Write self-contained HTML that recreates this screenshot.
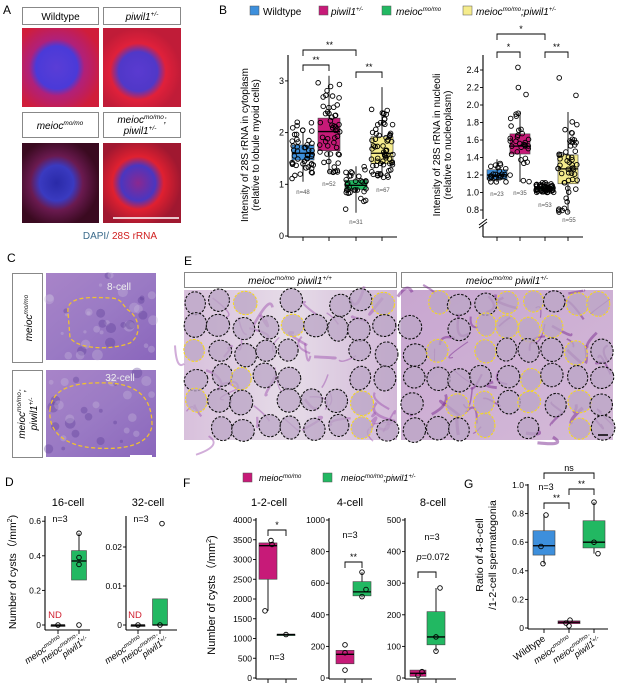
<!DOCTYPE html>
<html><head><meta charset="utf-8"><style>
html,body{margin:0;padding:0;background:#fff}
svg{display:block;font-family:"Liberation Sans",sans-serif}
.it{font-style:italic}
</style></head><body>
<svg id="s" width="617" height="685" viewBox="0 0 617 685" xmlns="http://www.w3.org/2000/svg">
<defs>
<radialGradient id="ga1" cx="45%" cy="50%" r="60%"><stop offset="0" stop-color="#5a3dd6"/><stop offset="0.45" stop-color="#4a3ad8"/><stop offset="0.6" stop-color="#b0207a"/><stop offset="1" stop-color="#d01d3a"/></radialGradient>
<radialGradient id="ga2" cx="45%" cy="55%" r="55%"><stop offset="0" stop-color="#5a3ad0"/><stop offset="0.45" stop-color="#5038c8"/><stop offset="0.65" stop-color="#e0203a"/><stop offset="1" stop-color="#c01c38"/></radialGradient>
<radialGradient id="ga3" cx="45%" cy="50%" r="55%"><stop offset="0" stop-color="#2a2aa8"/><stop offset="0.4" stop-color="#3a3ac0"/><stop offset="0.62" stop-color="#6a1a50"/><stop offset="1" stop-color="#3a0a20"/></radialGradient>
<radialGradient id="ga4" cx="45%" cy="50%" r="55%"><stop offset="0" stop-color="#8a2890"/><stop offset="0.4" stop-color="#4a36c0"/><stop offset="0.6" stop-color="#e02030"/><stop offset="1" stop-color="#a01830"/></radialGradient>
<linearGradient id="gh" x1="0" y1="0" x2="1" y2="1"><stop offset="0" stop-color="#a884c8"/><stop offset="0.5" stop-color="#9a7ac4"/><stop offset="1" stop-color="#8a66bc"/></linearGradient>
<linearGradient id="ge1" x1="0" y1="0" x2="1" y2="0"><stop offset="0" stop-color="#d8c0dc"/><stop offset="0.5" stop-color="#e6dce8"/><stop offset="1" stop-color="#d2b8d8"/></linearGradient>
<linearGradient id="ge2" x1="0" y1="0" x2="1" y2="1"><stop offset="0" stop-color="#c8a6d0"/><stop offset="1" stop-color="#d4bad8"/></linearGradient>
</defs>

<!-- Panel A -->
<text x="3" y="14" font-size="12">A</text>
<rect x="22.5" y="7.5" width="76" height="17" fill="#fff" stroke="#888"/>
<text x="60.5" y="20" font-size="10" text-anchor="middle">Wildtype</text>
<rect x="103.5" y="7.5" width="77" height="17" fill="#fff" stroke="#888"/>
<text x="142" y="20" font-size="10" text-anchor="middle" class="it">piwil1<tspan font-size="6.5" dy="-4">+/-</tspan></text>
<rect x="22" y="28" width="77" height="79" fill="url(#ga1)"/>
<rect x="103" y="28" width="78" height="79" fill="url(#ga2)"/>
<rect x="22.5" y="112.5" width="76" height="25" fill="#fff" stroke="#888"/>
<text x="60" y="129" font-size="10" text-anchor="middle" class="it">meioc<tspan font-size="6.5" dy="-4">mo/mo</tspan></text>
<rect x="103.5" y="112.5" width="77" height="25" fill="#fff" stroke="#888"/>
<text x="142" y="123" font-size="10" text-anchor="middle" class="it">meioc<tspan font-size="6.5" dy="-4">mo/mo</tspan><tspan dy="4">;</tspan></text>
<text x="140" y="134" font-size="10" text-anchor="middle" class="it">piwil1<tspan font-size="6.5" dy="-4">+/-</tspan></text>
<rect x="22" y="143" width="77" height="80" fill="url(#ga3)"/>
<rect x="103" y="143" width="78" height="80" fill="url(#ga4)"/>
<line x1="113" y1="218" x2="179" y2="218" stroke="#fff" stroke-width="1.5"/>
<text x="109" y="239" font-size="10" text-anchor="end" fill="#3a6a8a">DAPI/</text>
<text x="112" y="239" font-size="10" fill="#d02020">28S rRNA</text>

<!-- Panel B legend -->
<text x="219" y="14" font-size="12">B</text>
<g font-size="10">
<rect x="250" y="6" width="9" height="9" fill="#3d8fdc" stroke="#555" stroke-width="0.5"/><text x="263" y="15">Wildtype</text>
<rect x="319" y="6" width="9" height="9" fill="#c71a78" stroke="#555" stroke-width="0.5"/><text x="331" y="15" class="it">piwil1<tspan font-size="6" dy="-4">+/-</tspan></text>
<rect x="382" y="6" width="9" height="9" fill="#22b862" stroke="#555" stroke-width="0.5"/><text x="396" y="15" class="it">meioc<tspan font-size="6" dy="-4">mo/mo</tspan></text>
<rect x="463" y="6" width="9" height="9" fill="#f5ec8c" stroke="#555" stroke-width="0.5"/><text x="476" y="15" class="it">meioc<tspan font-size="6" dy="-4">mo/mo</tspan><tspan dy="4">;piwil1</tspan><tspan font-size="6" dy="-4">+/-</tspan></text>
</g>
<g id="g1"></g>

<!-- Panel C -->
<text x="7" y="262" font-size="12">C</text>
<rect x="12.5" y="273.5" width="30" height="89" fill="#fff" stroke="#888"/>
<text transform="translate(32,318) rotate(-90)" font-size="10" text-anchor="middle" class="it">meioc<tspan font-size="6.5" dy="-4">mo/mo</tspan></text>
<rect x="12.5" y="370.5" width="30" height="87" fill="#fff" stroke="#888"/>
<text transform="translate(25,414) rotate(-90)" font-size="10" text-anchor="middle" class="it">meioc<tspan font-size="6.5" dy="-4">mo/mo</tspan><tspan dy="4">;</tspan></text>
<text transform="translate(37,414) rotate(-90)" font-size="10" text-anchor="middle" class="it">piwil1<tspan font-size="6.5" dy="-4">+/-</tspan></text>
<rect x="46" y="273" width="110" height="87" fill="url(#gh)"/>
<rect x="46" y="370" width="110" height="87" fill="url(#gh)"/>
<g id="tex"></g>
<path d="M68,312 C66,296 90,297 110,298 C122,298 122,305 128,310 C140,318 142,335 130,343 C112,350 80,350 70,338 Z" fill="none" stroke="#f0c030" stroke-width="1.3" stroke-dasharray="4,2.5"/>
<text x="119" y="290" font-size="10" fill="#eee" text-anchor="middle">8-cell</text>
<path d="M50,410 C52,385 80,382 110,383 C140,385 152,400 152,425 C150,445 125,450 95,448 C65,446 48,432 50,410 Z" fill="none" stroke="#f0c030" stroke-width="1.3" stroke-dasharray="4,2.5"/>
<text x="120" y="381" font-size="10" fill="#eee" text-anchor="middle">32-cell</text>
<line x1="130" y1="456" x2="152" y2="456" stroke="#fff" stroke-width="2"/>

<!-- Panel E -->
<text x="184" y="265" font-size="12">E</text>
<rect x="184.5" y="272.5" width="212" height="15" fill="#fff" stroke="#888"/>
<text x="290" y="284" font-size="10" text-anchor="middle" class="it">meioc<tspan font-size="6.5" dy="-4">mo/mo</tspan><tspan dy="4"> piwil1</tspan><tspan font-size="6.5" dy="-4">+/+</tspan></text>
<rect x="401.5" y="272.5" width="211" height="15" fill="#fff" stroke="#888"/>
<text x="507" y="284" font-size="10" text-anchor="middle" class="it">meioc<tspan font-size="6.5" dy="-4">mo/mo</tspan><tspan dy="4"> piwil1</tspan><tspan font-size="6.5" dy="-4">+/-</tspan></text>
<rect x="184" y="290" width="213" height="150" fill="url(#ge1)"/>
<rect x="401" y="290" width="212" height="150" fill="url(#ge2)"/>
<g id="cells"></g>
<line x1="598" y1="435" x2="608" y2="435" stroke="#000" stroke-width="1.5"/>

<g id="plots" font-size="8.5"></g>
<text x="5" y="486" font-size="12">D</text>
<text x="183" y="487" font-size="12">F</text>
<rect x="243" y="473" width="9" height="9" fill="#c71a78" stroke="#555" stroke-width="0.5"/>
<text x="259" y="481" font-size="9" class="it">meioc<tspan font-size="6" dy="-3">mo/mo</tspan></text>
<rect x="323" y="473" width="9" height="9" fill="#22b862" stroke="#555" stroke-width="0.5"/>
<text x="341" y="481" font-size="9" class="it">meioc<tspan font-size="6" dy="-3">mo/mo</tspan><tspan dy="3">;piwil1</tspan><tspan font-size="6" dy="-3">+/-</tspan></text>
<text x="464" y="488" font-size="12">G</text>
</svg>
<script>
var S='http://www.w3.org/2000/svg';
function el(p,t,a,txt){var e=document.createElementNS(S,t);for(var k in a)e.setAttribute(k,a[k]);if(txt!==undefined)e.textContent=txt;p.appendChild(e);return e;}
var seed=7;function r(){seed=(seed*16807)%2147483647;return (seed-1)/2147483646;}
var G=document.getElementById('g1');
function line(x1,y1,x2,y2,w){el(G,'line',{x1:x1,y1:y1,x2:x2,y2:y2,stroke:'#000','stroke-width':w||0.9});}
function txt(x,y,s,fs,anc,extra){var a={x:x,y:y,'font-size':fs||8.5,'text-anchor':anc||'middle'};for(var k in extra)a[k]=extra[k];return el(G,'text',a,s);}
function box(x,w,ys,col,pts,ptr){
 line(x,ys[0],x,ys[4],0.9);
 el(G,'rect',{x:x-w/2,y:ys[3],width:w,height:Math.max(ys[1]-ys[3],1.5),fill:col,stroke:'#444','stroke-width':0.6});
 line(x-w/2,ys[2],x+w/2,ys[2],1.3);
 if(pts)pts.forEach(function(p){el(G,'circle',{cx:x+(ptr?(r()-0.5)*ptr:0)+(p.length>1?p[1]:0),cy:p[0],r:2.3,fill:'none',stroke:'#000','stroke-width':0.9});});
}
function brk(x1,x2,y,lab,h){h=h||6;el(G,'path',{d:'M'+x1+','+(y+h)+'V'+y+'H'+x2+'V'+(y+h),fill:'none',stroke:'#000','stroke-width':0.9});txt((x1+x2)/2,y-2,lab,9);}
function axis(x,y0,y1,xr,ticks,cats,fs){line(x,y0,x,y1,1.1);line(x,y1,xr,y1,1.1);ticks.forEach(function(t){line(x-3,t[1],x,t[1]);txt(x-4,t[1]+3,t[0],fs||8.5,'end');});cats.forEach(function(c){line(c,y1,c,y1+4);});}
function scatter(n,lo,hi,med,sc){var a=[];for(var i=0;i<n;i++){var u=r(),v=r();var val=med+(u+v-1)*(hi-lo)*0.6;if(val<lo)val=lo+r()*0.1*(hi-lo);if(val>hi)val=hi-r()*0.1*(hi-lo);a.push([sc(val)]);}return a;}
// B left
var yl=function(v){return 236-51.7*v;};
axis(288,55,237,397,[['3',yl(3)],['2',yl(2)],['1',yl(1)],['0',yl(0)]],[303,329,356,382],9);
box(303,22,[yl(1.05),yl(1.47),yl(1.6),yl(1.76),yl(2.0)],'#3d8fdc',scatter(48,1.05,2.27,1.6,yl),22);
box(329,22,[yl(1.22),yl(1.65),yl(2.02),yl(2.28),yl(3.1)],'#c71a78',scatter(52,1.22,3.1,2.0,yl),22);
box(356,22,[yl(0.45),yl(0.9),yl(0.98),yl(1.08),yl(1.35)],'#22b862',scatter(31,0.45,1.35,0.98,yl),22);
box(382,22,[yl(1.13),yl(1.4),yl(1.6),yl(1.92),yl(2.88)],'#f5ec8c',scatter(67,1.13,2.9,1.65,yl),22);
txt(303,194,'n=48',6,'middle',{fill:'#555'});txt(329,186,'n=52',6,'middle',{fill:'#555'});txt(356,224,'n=31',6,'middle',{fill:'#555'});txt(383,192,'n=67',6,'middle',{fill:'#555'});
brk(303,329,65,'**');brk(303,356,50,'**');brk(356,382,72,'**');
txt(0,0,'Intensity of 28S rRNA in cytoplasm',10,'middle',{transform:'translate(248,145) rotate(-90)'});
txt(0,0,'(relative to lobule myoid cells)',10,'middle',{transform:'translate(259,145) rotate(-90)'});
// B right
var yr=function(v){return 210-(v-0.8)*87.5;};
var tk=[];[2.4,2.2,2.0,1.8,1.6,1.4,1.2,1.0,0.8].forEach(function(v){tk.push([v.toFixed(1),yr(v)]);});
axis(483,55,237,583,tk,[497,520,545,568],9);
el(G,'rect',{x:479,y:219,width:8,height:6,fill:'#fff'});
line(479,225,487,219);line(479,228,487,222);
box(497,20,[yr(1.12),yr(1.15),yr(1.2),yr(1.26),yr(1.38)],'#3d8fdc',scatter(23,1.12,1.38,1.2,yr),18);
box(520,20,[yr(1.12),yr(1.44),yr(1.53),yr(1.67),yr(1.93)],'#c71a78',scatter(32,1.12,1.93,1.55,yr).concat([[yr(2.43)],[yr(2.2)],[yr(2.12)]]),20);
box(545,20,[yr(1.0),yr(1.03),yr(1.05),yr(1.07),yr(1.12)],'#22b862',scatter(53,1.0,1.12,1.05,yr),18);
box(568,20,[yr(0.77),yr(1.1),yr(1.27),yr(1.43),yr(1.92)],'#f5ec8c',scatter(52,0.77,1.92,1.27,yr).concat([[yr(2.31)],[yr(2.11)]]),20);
txt(497,196,'n=23',6,'middle',{fill:'#555'});txt(520,195,'n=35',6,'middle',{fill:'#555'});txt(545,207,'n=53',6,'middle',{fill:'#555'});txt(569,222,'n=55',6,'middle',{fill:'#555'});
brk(497,520,52,'*');brk(497,545,34,'*');brk(545,568,52,'**');
txt(0,0,'Intensity of 28S rRNA in nucleoli',10,'middle',{transform:'translate(440,145) rotate(-90)'});
txt(0,0,'(relative to nucleoplasm)',10,'middle',{transform:'translate(451,145) rotate(-90)'});

// texture for C
var tex=document.getElementById('tex');
for(var i=0;i<70;i++){var x=48+r()*106,y=275+r()*180;if(y>358&&y<372)continue;el(tex,'circle',{cx:x,cy:y,r:1.5+r()*4,fill:r()<0.6?'#c8bade':'#5a3a96',opacity:0.35});}
// cells for E
var C=document.getElementById('cells');
for(var i=0;i<45;i++){el(C,'path',{d:'M'+(184+r()*213)+','+(290+r()*150)+' q'+(r()*30-15)+','+(r()*30-15)+' '+(r()*40-20)+','+(r()*40-20),stroke:'#9a4aaa','stroke-width':1+r()*2,fill:'none',opacity:0.45});}
for(var i=0;i<45;i++){el(C,'path',{d:'M'+(401+r()*212)+','+(290+r()*150)+' q'+(r()*30-15)+','+(r()*30-15)+' '+(r()*40-20)+','+(r()*40-20),stroke:'#7a2a90','stroke-width':1+r()*2.5,fill:'none',opacity:0.5});}
function cells(x0,w,yf,skip){var cols=9,rows=6,dx=w/cols,dy=150/rows;
 for(var i=0;i<cols;i++)for(var j=0;j<rows;j++){if(r()<skip)continue;
  var cx=x0+dx*(i+0.5)+(r()-0.5)*6,cy=290+dy*(j+0.5)+(r()-0.5)*6,rx=dx*0.42+r()*2,ry=dy*0.42+r()*2;var y=r()<yf;
  var tr='rotate('+(r()*40-20)+' '+cx+' '+cy+')';
  el(C,'ellipse',{cx:cx,cy:cy,rx:rx,ry:ry,fill:'#bba6c6',opacity:0.75,transform:tr});
  el(C,'ellipse',{cx:cx,cy:cy,rx:rx,ry:ry,fill:'none',stroke:y?'#f5d820':'#111','stroke-width':1.1,'stroke-dasharray':'2.5,1.5',transform:tr});}}
cells(184,213,0.22,0.2);cells(401,212,0.45,0.22);

// D, F, G
G=document.getElementById('plots');
function rot(x,y,lines,fs){lines.forEach(function(l,i){var e=el(G,'text',{'font-size':fs||9,'text-anchor':'end',transform:'translate('+(x+i*9)+','+(y+i*3)+') rotate(-35)',class:'it'});e.innerHTML=l;});}
var mm='meioc<tspan font-size="6" dy="-3">mo/mo</tspan>';
var mmc='meioc<tspan font-size="6" dy="-3">mo/mo</tspan><tspan dy="3">;</tspan>';
var pw='piwil1<tspan font-size="6" dy="-3">+/-</tspan>';
txt(0,0,'',10.5,'middle',{transform:'translate(16,572) rotate(-90)'}).innerHTML='Number of cysts（/mm<tspan font-size="7" dy="-4">2</tspan><tspan dy="4">)</tspan>';
// 16-cell
var yd=function(v){return 625-173*v;};
txt(68,506,'16-cell',11);
axis(45,516,630,90,[['0.6',yd(0.6)],['0.4',yd(0.4)],['0.2',yd(0.2)],['0',yd(0)]],[58,79]);
txt(60,522,'n=3',9);
box(58,14,[yd(0),yd(0),yd(0),yd(0),yd(0)],'#222',[[yd(0)]]);
box(79,15,[yd(0.26),yd(0.26),yd(0.37),yd(0.43),yd(0.53)],'#22b862',[[yd(0.53)],[yd(0.39)],[yd(0.35)]]);
el(G,'circle',{cx:79,cy:yd(0),r:2.3,fill:'none',stroke:'#000','stroke-width':0.9});
txt(55,618,'ND',9.5,'middle',{fill:'#d02030'});
rot(62,640,[mm]);rot(80,638,[mmc,pw]);
// 32-cell
var yd2=function(v){return 625-3900*v;};
txt(148,506,'32-cell',11);
axis(126,516,630,177,[['0.02',yd2(0.02)],['0.01',yd2(0.01)],['0',yd2(0)]],[138,160]);
txt(141,522,'n=3',9);
box(138,14,[yd2(0),yd2(0),yd2(0),yd2(0),yd2(0)],'#222',[[yd2(0)]]);
box(160,15,[yd2(0),yd2(0),yd2(0),yd2(0.0067),yd2(0.0067)],'#22b862',[[yd2(0)]]);
el(G,'circle',{cx:162,cy:yd2(0.026),r:2.3,fill:'none',stroke:'#000','stroke-width':0.9});
txt(135,618,'ND',9.5,'middle',{fill:'#d02030'});
rot(142,640,[mm]);rot(160,638,[mmc,pw]);
// F
txt(0,0,'',11,'middle',{transform:'translate(215,595) rotate(-90)'}).innerHTML='Number of cysts（/mm<tspan font-size="7" dy="-4">2</tspan><tspan dy="4">)</tspan>';
txt(269,506,'1-2-cell',11);
var f1=function(v){return 678-v*0.0395;};
var tk1=[];for(var v=4000;v>=0;v-=500)tk1.push([String(v),f1(v)]);
axis(256,518,679,297,tk1,[268,286]);
box(268,18,[f1(1700),f1(2500),f1(3350),f1(3420),f1(3420)],'#c71a78',[[f1(3480),3],[f1(3380),4],[f1(1700),-3]]);
box(286,18,[f1(1090),f1(1090),f1(1100),f1(1110),f1(1110)],'#22b862',[[f1(1100)]]);
brk(268,286,530,'*');txt(277,660,'n=3',9);
txt(350,506,'4-cell',11);
var f2=function(v){return 678-v*0.158;};
axis(329,518,679,372,[['1000',f2(1000)],['800',f2(800)],['600',f2(600)],['400',f2(400)],['200',f2(200)],['0',f2(0)]],[345,362]);
box(345,18,[f2(90),f2(90),f2(150),f2(175),f2(175)],'#c71a78',[[f2(210)],[f2(160)],[f2(50)]]);
box(362,18,[f2(510),f2(520),f2(545),f2(610),f2(670)],'#22b862',[[f2(670)],[f2(560),4],[f2(515)]]);
txt(350,538,'n=3',9);brk(345,362,562,'**');
txt(433,506,'8-cell',11);
var f3=function(v){return 678-v*0.316;};
axis(405,518,679,456,[['500',f3(500)],['400',f3(400)],['300',f3(300)],['200',f3(200)],['100',f3(100)],['0',f3(0)]],[418,436]);
box(418,16,[f3(5),f3(5),f3(15),f3(25),f3(25)],'#c71a78',[[f3(20),4],[f3(8)]]);
box(436,18,[f3(85),f3(105),f3(130),f3(210),f3(285)],'#22b862',[[f3(285),4],[f3(130)],[f3(85)]]);
txt(432,540,'n=3',9);
txt(433,560,'',9).innerHTML='<tspan font-style="italic">p</tspan>=0.072';
brk(418,436,572,'');
// G
var g=function(v){return 628-143*v;};
var tkg=[];[1.0,0.8,0.6,0.4,0.2,0].forEach(function(v){tkg.push([v===0?'0':v.toFixed(1),g(v)]);});
axis(528,484,629,608,tkg,[544,569,594]);
txt(0,0,'Ratio of 4-8-cell',10.5,'middle',{transform:'translate(483,555) rotate(-90)'});
txt(0,0,'/1-2-cell spermatogonia',10.5,'middle',{transform:'translate(496,555) rotate(-90)'});
txt(546,490,'n=3',9);
box(544,22,[g(0.45),g(0.51),g(0.575),g(0.68),g(0.79)],'#3d8fdc',[[g(0.79),2],[g(0.57),-3],[g(0.45),-1]]);
box(569,22,[g(0.03),g(0.03),g(0.04),g(0.05),g(0.05)],'#c71a78',[[g(0.055),1],[g(0.035),-3],[g(0.015)]]);
box(594,22,[g(0.52),g(0.56),g(0.6),g(0.75),g(0.88)],'#22b862',[[g(0.88)],[g(0.6)],[g(0.52),4]]);
brk(544,569,503,'**');brk(569,594,489,'**');brk(544,594,473,'ns');
el(G,'text',{'font-size':9.5,'text-anchor':'end',transform:'translate(546,640) rotate(-35)'},'Wildtype');
rot(571,640,[mm]);rot(592,638,[mmc,pw]);
</script>
</body></html>
